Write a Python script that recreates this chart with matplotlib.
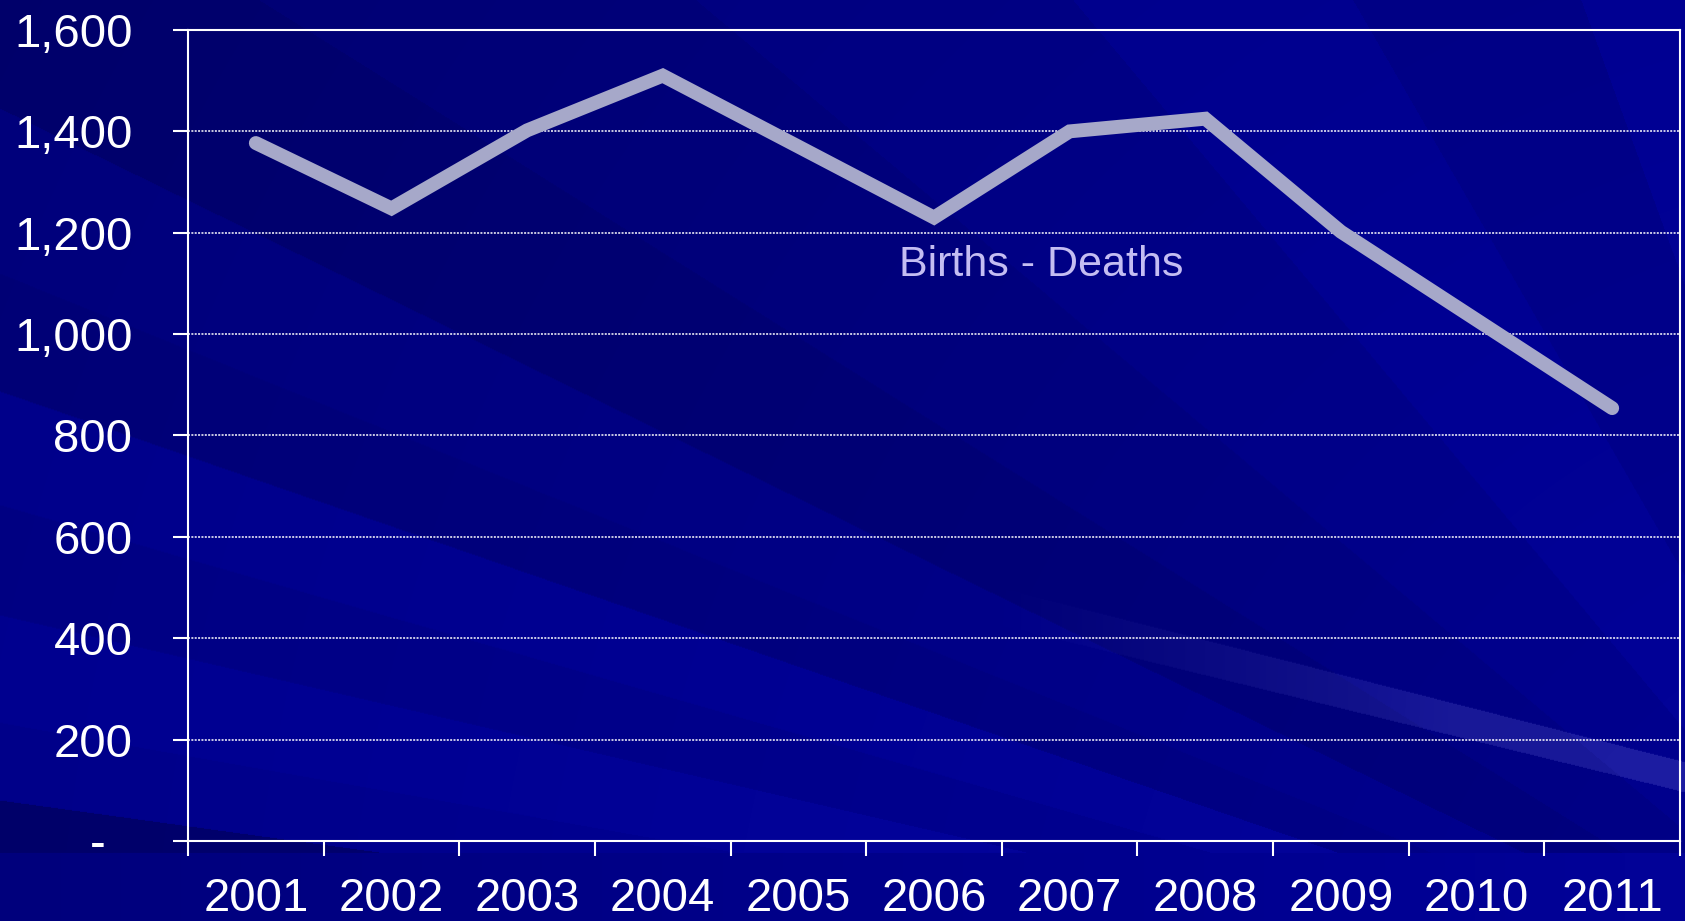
import numpy as np
import matplotlib
matplotlib.use("Agg")
import matplotlib.pyplot as plt
from matplotlib.ticker import FixedLocator, FuncFormatter

# data
years = ['2001', '2002', '2003', '2004', '2005', '2006',
         '2007', '2008', '2009', '2010', '2011']
births_minus_deaths = [1377, 1248, 1402, 1510, 1370, 1230,
                       1400, 1425, 1202, 1028, 854]
y_ticks = [0, 200, 400, 600, 800, 1000, 1200, 1400, 1600]
series_label = 'Births - Deaths'

plt.rcParams['font.family'] = ['Liberation Sans', 'DejaVu Sans']

W, H = 1685, 921
fig = plt.figure(figsize=(W / 100, H / 100), dpi=100)

# background: dark blue with soft rays fanning out from lower right
yy, xx = np.mgrid[0:H, 0:W].astype(float)
ox, oy = 1970.0, 1070.0
ang = np.degrees(np.arctan2(oy - yy, ox - xx))
edges = [-90, 6.3, 7.8, 10, 13, 16, 19, 22, 26, 32, 40, 50, 60, 70, 180]
deltas = [2, -26, 6, 12, 0, 8, -12, -6, -22, -14, -6, 4, -6, 6]
idx = np.digitize(ang, edges[1:-1])
b = 0x80 + np.array(deltas, dtype=float)[idx]
dist = np.hypot(xx - ox, yy - oy)
b = b + 24 * np.clip(1 - dist / 2300, 0, 1)

# faint light streak at lower right, fading in from the left
top = 588 + (xx - 1000) * (762 - 588) / 685
bot = 625 + (xx - 1000) * (792 - 625) / 685
streak = ((yy > top) & (yy < bot)) * np.clip((xx - 1000) / 450, 0, 1)
b = b + 0x14 * streak

# plain strip along the bottom edge
strip = yy > 852
b[strip] = (0x7c + 0x1c * xx / W)[strip]
b = np.clip(b, 0, 255)
rg = np.clip((b - 0x92) * 0.4, 0, 30) + 0x16 * streak * (~strip)
bg = np.clip(np.dstack([rg, rg, b]) / 255.0, 0, 1)
bax = fig.add_axes([0, 0, 1, 1], zorder=-10)
bax.imshow(bg, aspect='auto', interpolation='bilinear')
bax.axis('off')

ax = fig.add_axes([188 / W, 1 - 841 / H, (1680 - 188) / W, (841 - 30) / H])
ax.patch.set_alpha(0)

x = np.arange(len(years))
ax.plot(x, births_minus_deaths, color='#a6a8c9', lw=10,
        solid_capstyle='round', solid_joinstyle='miter', zorder=3)

ax.set_xlim(-0.5, len(years) - 0.5)
ax.set_ylim(0, 1600)

ax.xaxis.set_major_locator(FixedLocator(np.arange(len(years) + 1) - 0.5))
ax.xaxis.set_minor_locator(FixedLocator(x))
ax.set_xticklabels([])
ax.set_xticklabels(years, minor=True)
ax.tick_params(axis='x', which='major', direction='out', length=10.5,
               width=1.5, color='white', labelbottom=False)
ax.tick_params(axis='x', which='minor', length=0, pad=26,
               labelsize=34, labelcolor='white')

ax.set_yticks(y_ticks)
ax.yaxis.set_major_formatter(FuncFormatter(
    lambda v, p: '-  ' if v == 0 else '{:,.0f}'.format(v)))
ax.tick_params(axis='y', direction='out', length=11, width=1.5, color='white',
               pad=29, labelsize=34, labelcolor='white')

ax.grid(axis='y', color='white', lw=1.1, linestyle=(0, (1.3, 0.9)))
ax.set_axisbelow(True)

for s in ax.spines.values():
    s.set_color('white')
    s.set_linewidth(1.5)

ax.text(4.74, 1136, series_label, color='#c4bdf2', fontsize=31,
        ha='left', va='center')

fig.savefig('out.png', dpi=100)
